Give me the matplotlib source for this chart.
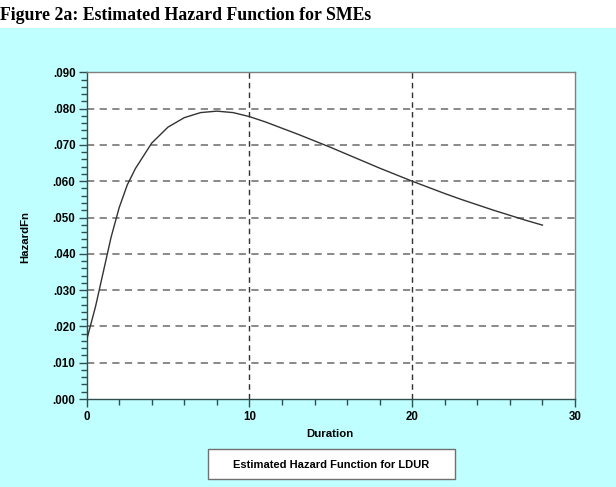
import matplotlib
matplotlib.use("Agg")
import matplotlib.pyplot as plt
from matplotlib.patches import Rectangle
from matplotlib.ticker import MultipleLocator, FuncFormatter

duration = [0, 0.55, 1, 1.5, 2, 2.5, 3, 4, 5, 6, 7, 8, 9, 10, 11, 12, 13, 14,
            15, 16, 17, 18, 19, 20, 21, 22, 23, 24, 25, 26, 27, 28]
hazard = [0.0162, 0.0255, 0.0345, 0.0445, 0.0527, 0.0590, 0.0635, 0.0705,
          0.0749, 0.0775, 0.0789, 0.0793, 0.0789, 0.0778, 0.0763, 0.0746,
          0.0729, 0.0711, 0.0693, 0.0674, 0.0655, 0.0636, 0.0618, 0.0600,
          0.0583, 0.0566, 0.0550, 0.0535, 0.0520, 0.0506, 0.0492, 0.0479]
x_ticks = [0, 10, 20, 30]
y_ticks = [0.0, 0.01, 0.02, 0.03, 0.04, 0.05, 0.06, 0.07, 0.08, 0.09]

title = "Figure 2a: Estimated Hazard Function for SMEs"
legend_label = "Estimated Hazard Function for LDUR"

cyan = "#BFFFFF"
W, H = 616, 487
fig = plt.figure(figsize=(W / 100, H / 100), dpi=100)
fig.patch.set_facecolor(cyan)
fig.patches.append(Rectangle((0, 1 - 28 / H), 1, 28 / H, transform=fig.transFigure,
                             facecolor="white", edgecolor="none", zorder=0))
fig.text(0.5 / W, 1 - 20 / H, title, family="Liberation Serif", weight="bold",
         fontsize=12.8, va="baseline", ha="left")

ax = fig.add_axes([86.6 / W, 1 - 399 / H, (575 - 86.6) / W, (399 - 72.3) / H])
ax.set_facecolor("white")
ax.set_xlim(0, 30)
ax.set_ylim(0, 0.09)
ax.set_xticks(x_ticks)
ax.set_yticks(y_ticks)
ax.xaxis.set_minor_locator(MultipleLocator(2))
ax.yaxis.set_minor_locator(MultipleLocator(0.002))
ax.yaxis.set_major_formatter(FuncFormatter(lambda v, p: f"{v:.3f}"[1:] if v < 1 else f"{v:.3f}"))

for y in y_ticks[1:-1]:
    ax.axhline(y, color="#808080", lw=1.3, ls=(0, (4, 3)), zorder=1)
for x in x_ticks[1:-1]:
    ax.axvline(x, color="#303030", lw=1.0, ls=(0, (4, 3)), zorder=1)

ax.plot(duration, hazard, color="#333333", lw=1.0, zorder=3)

for s in ["left", "bottom"]:
    ax.spines[s].set_color("#2F4F4F")
    ax.spines[s].set_linewidth(1.0)
for s in ["top", "right"]:
    ax.spines[s].set_color("#808080")
    ax.spines[s].set_linewidth(1.0)

ax.tick_params(which="major", direction="out", length=6, width=1, color="#2F4F4F",
               labelsize=8.3, pad=2)
ax.tick_params(which="minor", direction="out", length=4, width=1, color="#2F4F4F")
ax.tick_params(axis="x", which="major", pad=3)
for lab in ax.get_xticklabels() + ax.get_yticklabels():
    lab.set_family("Liberation Sans")
    lab.set_fontweight("bold")

fig.text(330 / W, 1 - 434 / H, "Duration", family="Liberation Sans", weight="bold",
         fontsize=8.2, ha="center", va="center")
fig.text(25 / W, 1 - 237 / H, "HazardFn", family="Liberation Sans", weight="bold",
         fontsize=8.2, ha="center", va="center", rotation=90)

fig.patches.append(Rectangle((208 / W, 1 - 479 / H), 247 / W, 30 / H,
                             transform=fig.transFigure, facecolor="white",
                             edgecolor="#707070", lw=1.0, zorder=2))
fig.text(331 / W, 1 - 465 / H, legend_label, family="Liberation Sans", weight="bold",
         fontsize=8, ha="center", va="center", zorder=3)

fig.savefig("out.png", dpi=100, facecolor=fig.get_facecolor())
